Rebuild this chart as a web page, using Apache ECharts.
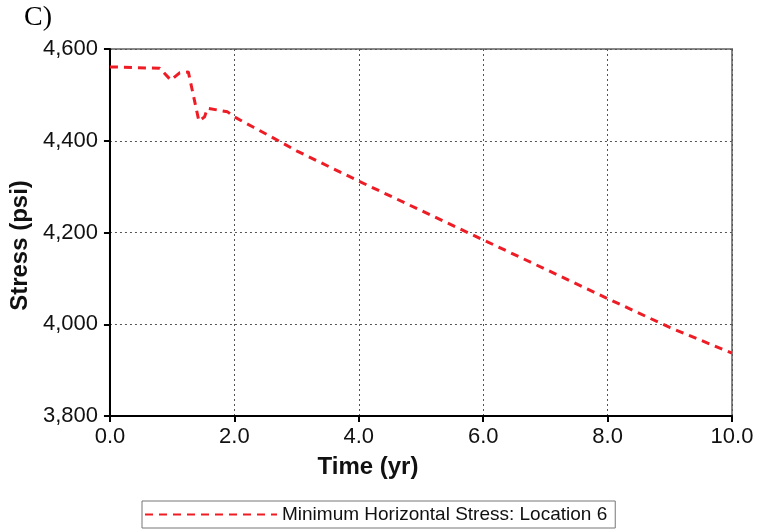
<!DOCTYPE html>
<html>
<head>
<meta charset="utf-8">
<script src="https://cdn.jsdelivr.net/npm/echarts@6/dist/echarts.min.js"></script>
<style>
html,body{margin:0;padding:0;background:#fff;}
#chart{width:757px;height:530px;}
#tag{position:absolute;left:24px;top:0px;font-family:"Liberation Serif","Times New Roman",serif;font-size:28px;color:#000;}
</style>
</head>
<body>
<div id="chart"></div>
<div id="tag">C)</div>
<script>
// 时间 (yr) 和 应力 (psi)
var timeYr = [0, 0.8, 0.98, 1.12, 1.26, 1.43, 1.52, 1.57, 1.89, 2.0, 2.3, 2.6, 3.0, 3.5, 4.0, 5.0, 6.0, 7.0, 8.0, 9.0, 10.0];
var stressPsi = [4561, 4558, 4532, 4548, 4550, 4443, 4452, 4471, 4463, 4452, 4430, 4408, 4378, 4345, 4312, 4248, 4184, 4120, 4056, 3993, 3937];
var seriesName = 'Minimum Horizontal Stress: Location 6';

var points = [];
timeYr.forEach(function(t, i) {
	points.push([t, stressPsi[i]]);
});

var option = {
	animation: false,
	grid: {
		left: 107,
		right: 25,
		top: 49,
		bottom: 114,
		show: true,
		borderColor: '#888',
		borderWidth: 2
	},
	legend: {
		data: [seriesName],
		bottom: 2,
		left: 142,
		itemWidth: 132,
		itemHeight: 18,
		itemGap: 4,
		padding: [4, 8, 4, 2],
		borderColor: '#777',
		borderWidth: 1,
		itemStyle: { opacity: 0 },
		textStyle: {
			fontFamily: 'Liberation Sans, Arial, sans-serif',
			fontSize: 19,
			color: '#111'
		}
	},
	xAxis: {
		type: 'value',
		min: 0,
		max: 10,
		interval: 2,
		name: 'Time (yr)',
		nameLocation: 'middle',
		nameGap: 39,
		nameTextStyle: {
			fontFamily: 'Liberation Sans, Arial, sans-serif',
			fontSize: 24,
			fontWeight: 'bold',
			color: '#111',
			padding: [0, 106, 0, 0]
		},
		axisLine: { lineStyle: { color: '#000', width: 2 } },
		axisTick: { show: true, length: 6, lineStyle: { color: '#000', width: 2 } },
		axisLabel: {
			fontFamily: 'Liberation Sans, Arial, sans-serif',
			fontSize: 22,
			color: '#111',
			margin: 10,
			formatter: function(v) { return v.toFixed(1); }
		},
		splitLine: { show: true, lineStyle: { color: '#555', type: [2, 3], width: 1 } }
	},
	yAxis: {
		type: 'value',
		min: 3800,
		max: 4600,
		interval: 200,
		name: 'Stress (psi)',
		nameLocation: 'middle',
		nameGap: 73,
		nameTextStyle: {
			fontFamily: 'Liberation Sans, Arial, sans-serif',
			fontSize: 24,
			fontWeight: 'bold',
			color: '#111',
			padding: [0, 26, 0, 0]
		},
		axisLine: { show: true, lineStyle: { color: '#000', width: 2 } },
		axisTick: { show: true, length: 6, lineStyle: { color: '#000', width: 2 } },
		axisLabel: {
			fontFamily: 'Liberation Sans, Arial, sans-serif',
			fontSize: 22,
			color: '#111',
			margin: 12,
			formatter: function(v) { return v.toLocaleString('en-US'); }
		},
		splitLine: { show: true, lineStyle: { color: '#555', type: [2, 3], width: 1 } }
	},
	series: [{
		name: seriesName,
		type: 'line',
		data: points,
		showSymbol: false,
		symbol: 'none',
		smooth: false,
		lineStyle: {
			color: '#ee1c25',
			width: 3,
			type: [8, 6]
		},
		itemStyle: { color: '#ee1c25' }
	}]
};

var myChart = echarts.init(document.getElementById('chart'));
myChart.setOption(option);
</script>
</body>
</html>
